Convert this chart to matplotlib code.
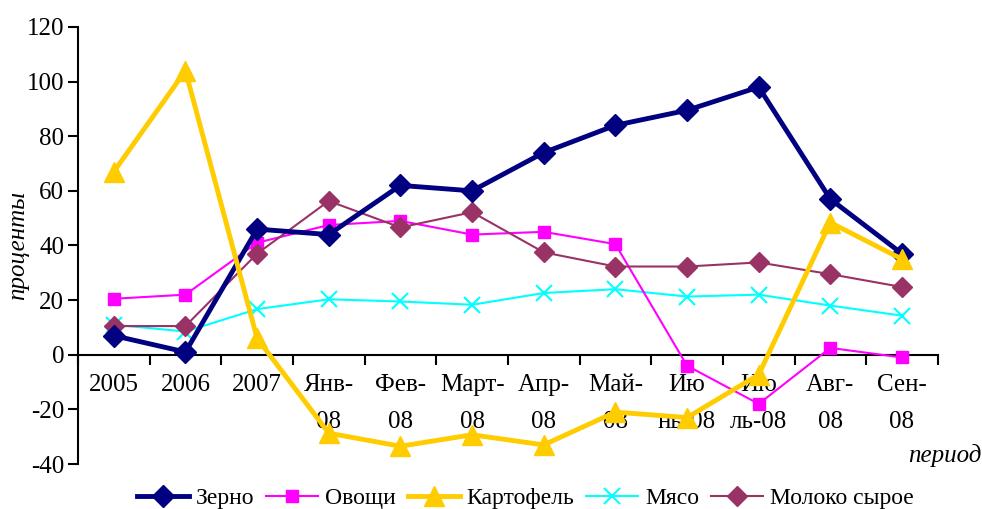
import matplotlib
matplotlib.use('Agg')
import matplotlib.pyplot as plt

plt.rcParams['font.family'] = ['Liberation Serif', 'DejaVu Serif']
plt.rcParams['axes.unicode_minus'] = False

periods = ['2005', '2006', '2007', 'Янв-\n08', 'Фев-\n08', 'Март-\n08', 'Апр-\n08',
           'Май-\n08', 'Ию\nнь-08', 'Ию\nль-08', 'Авг-\n08', 'Сен-\n08']

zerno = [7, 1, 46, 44, 62, 60, 74, 84, 89.5, 98, 57, 37]
ovoshchi = [20.5, 22, 41, 47.5, 49, 44, 45, 40.5, -4, -18, 2.5, -1]
kartofel = [67, 104, 6, -28.7, -33.5, -29.3, -33, -21, -23, -7.3, 48.4, 35]
myaso = [11, 8.5, 16.7, 20.3, 19.5, 18.3, 22.6, 24, 21.3, 22, 18, 14.3]
moloko = [10.5, 10.5, 37, 56.3, 46.6, 52.2, 37.5, 32.3, 32.3, 33.8, 29.5, 24.8]

x = list(range(len(periods)))

fig = plt.figure(figsize=(9.82, 5.09), dpi=100)
ax = fig.add_axes([0.0794, 0.0884, 0.8756, 0.8586])

ax.plot(x, zerno, color='#000080', lw=3.5, marker='D', ms=11, label='Зерно', zorder=5)
ax.plot(x, ovoshchi, color='#FF00FF', lw=1.5, marker='s', ms=8, label='Овощи', zorder=4)
ax.plot(x, kartofel, color='#FFCC00', lw=3.5, marker='^', ms=15, label='Картофель', zorder=6)
ax.plot(x, myaso, color='#00FFFF', lw=1.5, marker='x', ms=12, mew=1.5, label='Мясо', zorder=3)
ax.plot(x, moloko, color='#993366', lw=1.5, marker='D', ms=10, label='Молоко сырое', zorder=4)

ax.set_xlim(-0.5, len(periods) - 0.5)
ax.set_ylim(-40, 120)
ax.set_yticks(range(-40, 121, 20))
ax.tick_params(axis='y', direction='out', length=7, width=1.5, labelsize=18, pad=3)

ax.spines['top'].set_visible(False)
ax.spines['right'].set_visible(False)
ax.spines['left'].set_linewidth(1.5)
ax.spines['bottom'].set_position(('data', 0))
ax.spines['bottom'].set_linewidth(1.5)

ax.set_xticks(x)
ax.set_xticklabels(periods, linespacing=1.85)
ax.set_xticks([i - 0.5 for i in range(len(periods) + 1)], minor=True)
ax.tick_params(axis='x', which='major', length=0, labelsize=18, pad=14)
ax.tick_params(axis='x', which='minor', direction='out', length=7, width=1.5)

ax.set_ylabel('проценты', fontsize=18, style='italic', labelpad=0)
ax.yaxis.set_label_coords(-0.057, 0.5)
fig.text(0.999, 0.105, 'период', fontsize=18, style='italic', ha='right', va='center')

fig.legend(loc='lower center', bbox_to_anchor=(0.535, -0.042), ncol=5, frameon=False,
           fontsize=17, handlelength=2.2, columnspacing=0.5, handletextpad=0.3)

fig.savefig('out.png', dpi=100)
